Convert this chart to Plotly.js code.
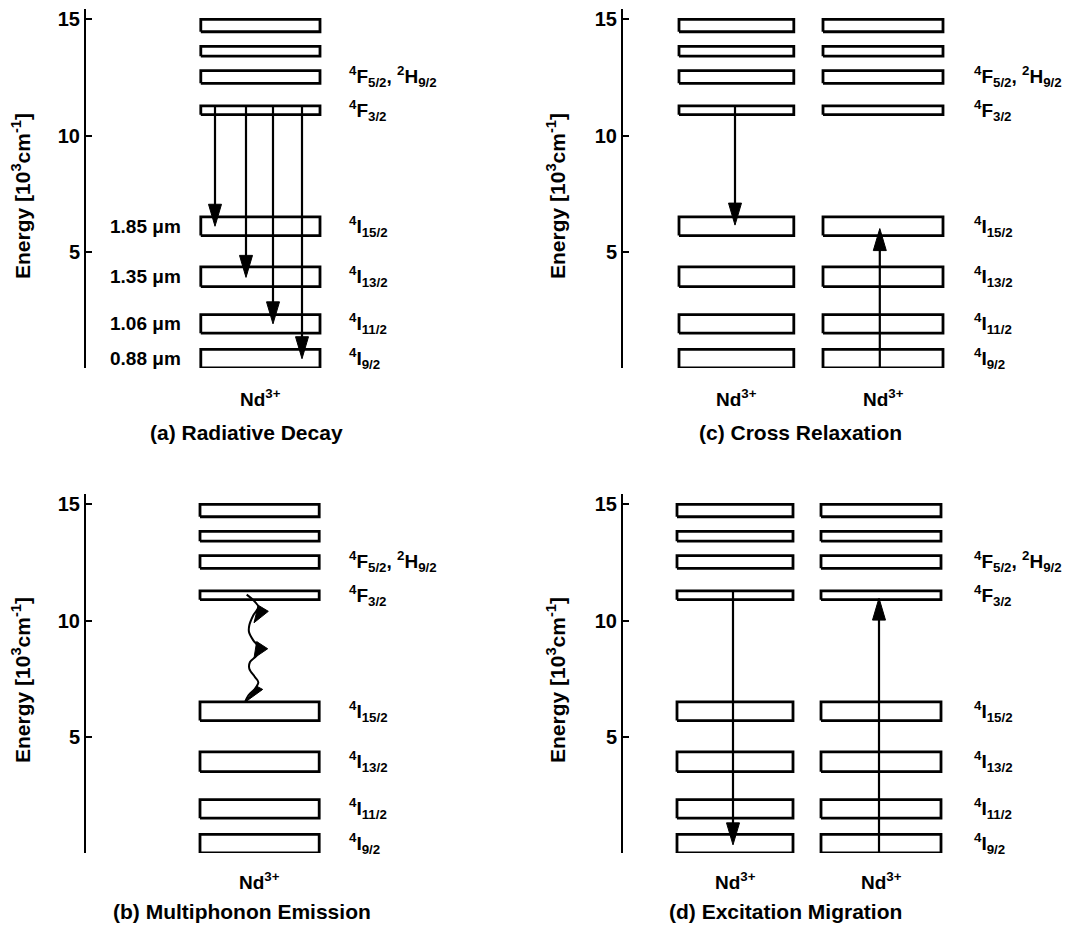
<!DOCTYPE html>
<html><head><meta charset="utf-8">
<script src="https://cdn.plot.ly/plotly-3.0.1.min.js"></script>
<style>html,body{margin:0;padding:0;background:#fff;}</style>
</head><body>
<div id="chart" style="width:1067px;height:926px;"></div>
<script>
// ---------------- data ----------------
// Nd3+ energy levels, in 10^3 cm^-1 (lower / upper edge of each band), bottom to top
const levelLow  = [0.0, 1.5, 3.5, 5.7, 10.9, 12.25, 13.42, 14.47];
const levelHigh = [0.8, 2.3, 4.35, 6.5, 11.28, 12.8, 13.84, 15.0];
const levelNames = [
  '<sup>4</sup>I<sub>9/2</sub>',
  '<sup>4</sup>I<sub>11/2</sub>',
  '<sup>4</sup>I<sub>13/2</sub>',
  '<sup>4</sup>I<sub>15/2</sub>',
  '<sup>4</sup>F<sub>3/2</sub>',
  '<sup>4</sup>F<sub>5/2</sub>, <sup>2</sup>H<sub>9/2</sub>',
  '', ''
];
const wavelengths = ['0.88 μm', '1.06 μm', '1.35 μm', '1.85 μm'];
const panelTitles = ['(a) Radiative Decay', '(b) Multiphonon Emission', '(c) Cross Relaxation', '(d) Excitation Migration'];
const ionLabel = 'Nd<sup>3+</sup>';
const axisTitle = 'Energy [10<sup>3</sup>cm<sup>-1</sup>]';
const yTickVals = [0, 5, 10, 15];
const yTickText = ['', '5', '10', '15'];

// (a) radiative decay: from top of 4F3/2 down to each 4I level
const radX    = [3.225, 4.0, 4.675, 5.4];
const radFrom = [11.28, 11.28, 11.28, 11.28];
const radTo   = [6.1, 3.9, 1.9, 0.4];
// (c) cross relaxation
const crossX    = [2.8, 6.42];
const crossFrom = [11.28, 0.0];
const crossTo   = [6.15, 6.0];
// (d) excitation migration
const migX    = [2.75, 6.4];
const migFrom = [11.25, 0.0];
const migTo   = [0.35, 10.97];
// (b) multiphonon emission: wavy path and its three flags
const waveX = [4.017, 4.225, 4.308, 4.183, 4.083, 4.075, 4.183, 4.308, 4.267, 4.1, 4.083, 4.225, 4.308, 4.225, 4.058, 3.975];
const waveY = [11.12, 10.81, 10.59, 10.23, 9.80, 9.51, 9.15, 8.87, 8.50, 8.22, 7.93, 7.57, 7.35, 7.07, 6.78, 6.49];
const flagX = [[4.308, 4.558, 4.2], [4.267, 4.542, 4.2], [4.267, 4.417, 3.975]];
const flagY = [[10.66, 10.40, 9.91], [9.10, 8.79, 8.39], [7.18, 7.04, 6.49]];

// ---------------- layout constants ----------------
const W = 1067, H = 926;
const FONT = 'Liberation Sans, Arial, Helvetica, sans-serif';
const xRange = [0, 10], yRange = [0, 15.45];
const xSpanPx = 400;
const colAxisPx = [86, 623];           // left / right column axis position
const rowPx = [[9, 368], [494, 853]];  // top / bottom row: [top, bottom] pixel
const rowHeightPx = 359;
// columns of boxes per panel (x units)
const panelCols = [
  [[2.87, 5.85]],
  [[2.85, 5.83]],
  [[1.40, 4.27], [5.00, 8.00]],
  [[1.35, 4.25], [4.95, 7.95]]
];
const panelGrid = [[0, 0], [0, 1], [1, 0], [1, 1]]; // [col, row]
const labelXUnits = [6.53, 6.53, 8.72, 8.72];
const titleXUnits = [4.0, 3.9, 4.43, 4.05];
const ionYpx = [398, 881];
const titleYpx = [432, 911];
const axTitleXpx = [21, 556];
const axTitleYpx = [196, 680];

const px2paperX = p => p / W;
const px2paperY = p => 1 - p / H;

const traces = [];
const annotations = [];
const layout = {
  width: W, height: H,
  margin: {l: 0, r: 0, t: 0, b: 0},
  paper_bgcolor: '#fff', plot_bgcolor: 'rgba(0,0,0,0)',
  showlegend: false,
  font: {family: FONT, color: '#000', size: 19, weight: 'bold'},
  annotations: annotations
};

panelGrid.forEach(([c, r], i) => {
  const n = i === 0 ? '' : String(i + 1);
  const xa = 'x' + n, ya = 'y' + n;
  const x0 = colAxisPx[c];
  layout['xaxis' + n] = {
    domain: [px2paperX(x0), px2paperX(x0 + xSpanPx)],
    range: xRange, visible: false, fixedrange: true, anchor: ya
  };
  layout['yaxis' + n] = {
    domain: [px2paperY(rowPx[r][1]), px2paperY(rowPx[r][0])],
    range: yRange, anchor: xa,
    showline: true, linewidth: 2, linecolor: '#000',
    ticks: 'inside', ticklen: 6, tickwidth: 2, tickcolor: '#000',
    tickvals: yTickVals, ticktext: yTickText,
    showgrid: false, zeroline: false, fixedrange: true,
    tickfont: {family: FONT, size: 20, color: '#000', weight: 'bold'}
  };

  // boxes
  panelCols[i].forEach(([bx0, bx1]) => {
    const xs = [], ys = [];
    levelLow.forEach((lo, k) => {
      const hi = levelHigh[k];
      xs.push(bx0, bx1, bx1, bx0, bx0, null);
      ys.push(lo, lo, hi, hi, lo, null);
    });
    traces.push({type: 'scatter', mode: 'lines', x: xs, y: ys, xaxis: xa, yaxis: ya,
      line: {color: '#000', width: 2.8}, hoverinfo: 'skip'});
    // ion label under each column
    annotations.push({text: ionLabel, xref: xa, yref: 'paper', x: (bx0 + bx1) / 2,
      y: px2paperY(ionYpx[r]), showarrow: false, xanchor: 'center', yanchor: 'middle',
      font: {family: FONT, size: 19, weight: 'bold', color: '#000'}});
  });

  // level names to the right
  levelNames.forEach((nm, k) => {
    if (!nm) return;
    annotations.push({text: nm, xref: xa, yref: ya, x: labelXUnits[i],
      y: (levelLow[k] + levelHigh[k]) / 2, showarrow: false, xanchor: 'left', yanchor: 'middle',
      font: {family: FONT, size: 19, weight: 'bold', color: '#000'}});
  });

  // panel title
  annotations.push({text: panelTitles[i], xref: xa, yref: 'paper', x: titleXUnits[i],
    y: px2paperY(titleYpx[r]), showarrow: false, xanchor: 'center', yanchor: 'middle',
    font: {family: FONT, size: 21, weight: 'bold', color: '#000'}});

  // axis title
  annotations.push({text: axisTitle, xref: 'paper', yref: 'paper', x: px2paperX(axTitleXpx[c]),
    y: px2paperY(axTitleYpx[r]), textangle: -90, showarrow: false, xanchor: 'center', yanchor: 'middle',
    font: {family: FONT, size: 21, weight: 'bold', color: '#000'}});
});

// arrows with filled heads
const headLenPx = 22, headHalfPx = 6.5;
function addArrow(xa, ya, x, yFrom, yTo) {
  const dir = yTo > yFrom ? 1 : -1;
  const dy = headLenPx * (yRange[1] - yRange[0]) / rowHeightPx;
  const dx = headHalfPx * (xRange[1] - xRange[0]) / xSpanPx;
  traces.push({type: 'scatter', mode: 'lines', x: [x, x], y: [yFrom, yTo - dir * dy * 0.5],
    xaxis: xa, yaxis: ya, line: {color: '#000', width: 2.2}, hoverinfo: 'skip'});
  traces.push({type: 'scatter', mode: 'lines', fill: 'toself', fillcolor: '#000',
    x: [x - dx, x + dx, x, x - dx], y: [yTo - dir * dy, yTo - dir * dy, yTo, yTo - dir * dy],
    xaxis: xa, yaxis: ya, line: {color: '#000', width: 1}, hoverinfo: 'skip'});
}
radX.forEach((x, k) => addArrow('x', 'y', x, radFrom[k], radTo[k]));
crossX.forEach((x, k) => addArrow('x3', 'y3', x, crossFrom[k], crossTo[k]));
migX.forEach((x, k) => addArrow('x4', 'y4', x, migFrom[k], migTo[k]));

// wavelength labels in (a)
wavelengths.forEach((w, k) => {
  annotations.push({text: w, xref: 'x', yref: 'y', x: 2.425, y: (levelLow[k] + levelHigh[k]) / 2,
    showarrow: false, xanchor: 'right', yanchor: 'middle',
    font: {family: FONT, size: 19, weight: 'bold', color: '#000'}});
});

// multiphonon wavy path (b)
traces.push({type: 'scatter', mode: 'lines', x: waveX, y: waveY, xaxis: 'x2', yaxis: 'y2',
  line: {color: '#000', width: 2, shape: 'spline', smoothing: 1}, hoverinfo: 'skip'});
flagX.forEach((fx, k) => {
  traces.push({type: 'scatter', mode: 'lines', fill: 'toself', fillcolor: '#000',
    x: fx.concat([fx[0]]), y: flagY[k].concat([flagY[k][0]]), xaxis: 'x2', yaxis: 'y2',
    line: {color: '#000', width: 1}, hoverinfo: 'skip'});
});

Plotly.newPlot('chart', traces, layout, {displayModeBar: false, staticPlot: true});
</script>
</body></html>
